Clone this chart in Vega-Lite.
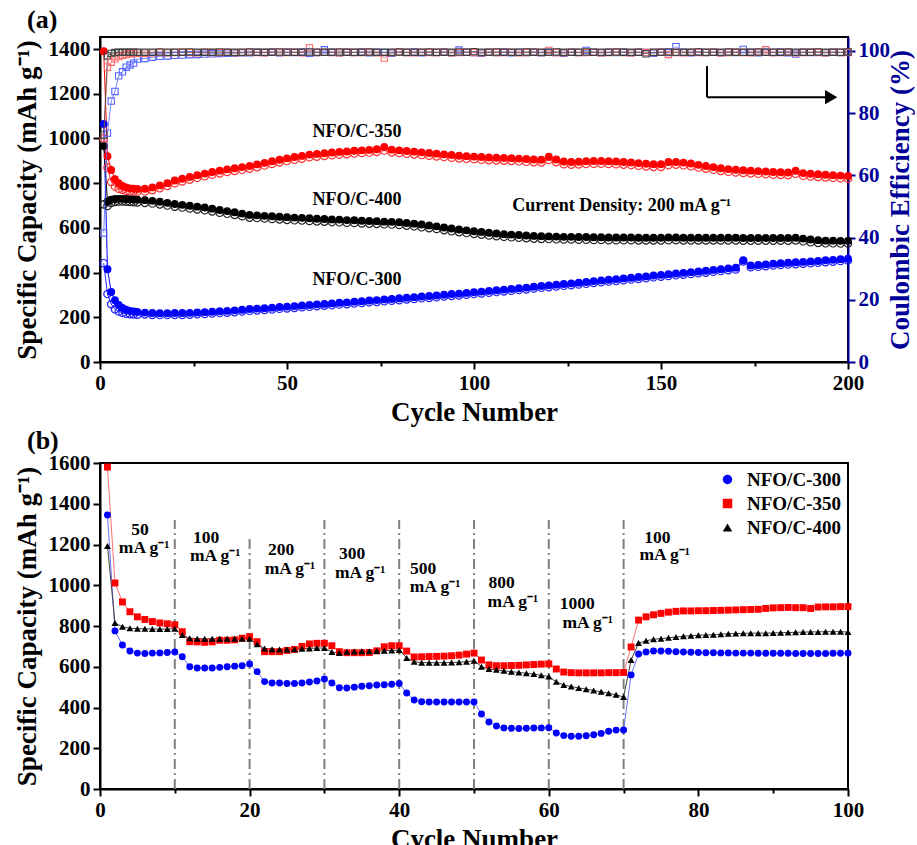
{
  "$schema": "https://vega.github.io/schema/vega-lite/v6.json",
  "padding": {"left": 12, "top": 6, "right": 0, "bottom": 0},
  "background": "white",
  "spacing": 1,
  "resolve": {"scale": {"color": "independent", "shape": "independent", "stroke": "independent"}, "legend": {"color": "independent", "shape": "independent"}},
  "config": {
    "font": "Liberation Serif",
    "view": {"stroke": "black", "strokeWidth": 2},
    "axis": {"grid": false, "domainWidth": 2, "domainColor": "black", "tickWidth": 2, "tickColor": "black", "labelFont": "Liberation Serif", "labelFontWeight": "bold", "labelFontSize": 21, "labelColor": "black", "titleFont": "Liberation Serif", "titleFontWeight": "bold", "titleFontSize": 27, "titleColor": "black", "labelPadding": 3, "labelFlush": false, "labelOverlap": false},
    "legend": {"labelFont": "Liberation Serif", "labelFontWeight": "bold", "labelFontSize": 19, "labelColor": "black", "rowPadding": 4, "labelOffset": 10, "offset": 4, "padding": 3},
    "title": {"font": "Liberation Serif", "fontWeight": "bold", "fontSize": 26, "anchor": "start", "color": "black"}
  },
  "datasets": {
    "a": [
      {"c":1,"b":1065,"bo":442,"r":1390,"ro":1000,"k":966,"ko":705,"be":41.5,"re":72,"ke":73.0},
      {"c":2,"b":415,"bo":304,"r":921,"ro":870,"k":718,"ko":698,"be":73.6,"re":94.8,"ke":98.4},
      {"c":3,"b":313,"bo":259,"r":859,"ro":805,"k":726,"ko":712,"be":83.9,"re":96.4,"ke":99.2},
      {"c":4,"b":276,"bo":236,"r":818,"ro":785,"k":729,"ko":716,"be":87.0,"re":97.5,"ke":99.5},
      {"c":5,"b":255,"bo":226,"r":800,"ro":775,"k":730,"ko":718,"be":92.0,"re":98.2,"ke":99.6},
      {"c":6,"b":242,"bo":220,"r":788,"ro":770,"k":730,"ko":718,"be":93.3,"re":98.6,"ke":99.6},
      {"c":7,"b":234,"bo":216,"r":781,"ro":766,"k":729,"ko":717,"be":94.8,"re":98.9,"ke":99.6},
      {"c":8,"b":229,"bo":214,"r":777,"ro":764,"k":728,"ko":716,"be":95.5,"re":99.1,"ke":99.6},
      {"c":9,"b":226,"bo":213,"r":775,"ro":763,"k":727,"ko":715,"be":96.1,"re":99.2,"ke":99.6},
      {"c":10,"b":224,"bo":212,"r":774,"ro":763,"k":726,"ko":714,"be":97.4,"re":99.3,"ke":99.6},
      {"c":12,"b":221,"bo":213,"r":775,"ro":763,"k":724,"ko":712,"be":97.6,"re":99.3,"ke":99.6},
      {"c":14,"b":219,"bo":211,"r":781,"ro":769,"k":721,"ko":709,"be":98.0,"re":99.4,"ke":99.6},
      {"c":16,"b":218,"bo":210,"r":790,"ro":778,"k":717,"ko":705,"be":98.3,"re":99.5,"ke":99.7},
      {"c":18,"b":218,"bo":210,"r":800,"ro":788,"k":712,"ko":700,"be":98.4,"re":99.4,"ke":99.6},
      {"c":20,"b":219,"bo":211,"r":812,"ro":800,"k":707,"ko":695,"be":98.6,"re":99.5,"ke":99.6},
      {"c":22,"b":219,"bo":211,"r":820,"ro":808,"k":703,"ko":691,"be":98.7,"re":99.6,"ke":99.6},
      {"c":24,"b":220,"bo":212,"r":828,"ro":816,"k":699,"ko":687,"be":98.8,"re":99.5,"ke":99.7},
      {"c":26,"b":222,"bo":214,"r":836,"ro":824,"k":695,"ko":683,"be":98.9,"re":99.4,"ke":99.6},
      {"c":28,"b":223,"bo":215,"r":843,"ro":831,"k":691,"ko":679,"be":99.0,"re":99.6,"ke":99.6},
      {"c":30,"b":225,"bo":217,"r":850,"ro":838,"k":686,"ko":674,"be":99.1,"re":99.5,"ke":99.6},
      {"c":32,"b":227,"bo":219,"r":856,"ro":844,"k":680,"ko":668,"be":99.2,"re":99.5,"ke":99.7},
      {"c":34,"b":229,"bo":221,"r":862,"ro":850,"k":675,"ko":663,"be":99.3,"re":99.6,"ke":99.6},
      {"c":36,"b":231,"bo":223,"r":867,"ro":855,"k":670,"ko":658,"be":99.3,"re":99.4,"ke":99.6},
      {"c":38,"b":234,"bo":226,"r":872,"ro":860,"k":664,"ko":652,"be":99.4,"re":99.5,"ke":99.6},
      {"c":40,"b":237,"bo":229,"r":877,"ro":865,"k":658,"ko":646,"be":99.4,"re":99.6,"ke":99.7},
      {"c":42,"b":239,"bo":231,"r":884,"ro":872,"k":656,"ko":644,"be":99.6,"re":99.5,"ke":99.6},
      {"c":44,"b":241,"bo":233,"r":891,"ro":879,"k":654,"ko":642,"be":99.5,"re":99.4,"ke":99.6},
      {"c":46,"b":243,"bo":235,"r":898,"ro":886,"k":652,"ko":640,"be":99.7,"re":99.6,"ke":99.6},
      {"c":48,"b":246,"bo":238,"r":905,"ro":893,"k":650,"ko":638,"be":99.4,"re":99.5,"ke":99.7},
      {"c":50,"b":248,"bo":240,"r":911,"ro":899,"k":648,"ko":636,"be":99.6,"re":99.5,"ke":99.6},
      {"c":52,"b":250,"bo":242,"r":917,"ro":905,"k":646,"ko":634,"be":99.5,"re":99.6,"ke":99.6},
      {"c":54,"b":253,"bo":245,"r":922,"ro":910,"k":645,"ko":633,"be":99.7,"re":99.4,"ke":99.6},
      {"c":56,"b":255,"bo":247,"r":928,"ro":916,"k":643,"ko":631,"be":99.3,"re":101.0,"ke":99.7},
      {"c":58,"b":258,"bo":250,"r":931,"ro":919,"k":641,"ko":629,"be":99.5,"re":99.5,"ke":99.6},
      {"c":60,"b":260,"bo":252,"r":934,"ro":922,"k":640,"ko":628,"be":100.4,"re":99.6,"ke":99.6},
      {"c":62,"b":262,"bo":254,"r":937,"ro":925,"k":638,"ko":626,"be":99.6,"re":99.5,"ke":99.6},
      {"c":64,"b":265,"bo":257,"r":940,"ro":928,"k":637,"ko":625,"be":99.4,"re":99.4,"ke":99.7},
      {"c":66,"b":267,"bo":259,"r":942,"ro":930,"k":635,"ko":623,"be":99.6,"re":99.6,"ke":99.6},
      {"c":68,"b":270,"bo":262,"r":945,"ro":933,"k":634,"ko":622,"be":99.5,"re":99.5,"ke":99.6},
      {"c":70,"b":272,"bo":264,"r":947,"ro":935,"k":632,"ko":620,"be":99.7,"re":99.5,"ke":99.6},
      {"c":72,"b":275,"bo":267,"r":949,"ro":937,"k":631,"ko":619,"be":99.4,"re":99.6,"ke":99.7},
      {"c":74,"b":277,"bo":269,"r":952,"ro":940,"k":630,"ko":618,"be":99.6,"re":99.4,"ke":99.6},
      {"c":76,"b":280,"bo":272,"r":962,"ro":946,"k":628,"ko":616,"be":99.5,"re":97.7,"ke":99.6},
      {"c":78,"b":282,"bo":274,"r":950,"ro":938,"k":627,"ko":615,"be":99.3,"re":99.5,"ke":99.6},
      {"c":80,"b":285,"bo":277,"r":947,"ro":935,"k":625,"ko":613,"be":99.6,"re":99.6,"ke":99.7},
      {"c":82,"b":288,"bo":280,"r":944,"ro":932,"k":622,"ko":610,"be":99.5,"re":99.5,"ke":99.6},
      {"c":84,"b":290,"bo":282,"r":941,"ro":929,"k":619,"ko":607,"be":99.7,"re":99.4,"ke":99.6},
      {"c":86,"b":293,"bo":285,"r":938,"ro":926,"k":615,"ko":603,"be":99.4,"re":99.6,"ke":99.6},
      {"c":88,"b":295,"bo":287,"r":935,"ro":923,"k":611,"ko":599,"be":99.6,"re":99.5,"ke":99.7},
      {"c":90,"b":298,"bo":290,"r":932,"ro":920,"k":607,"ko":595,"be":99.5,"re":99.5,"ke":99.6},
      {"c":92,"b":301,"bo":293,"r":929,"ro":917,"k":602,"ko":590,"be":99.7,"re":99.6,"ke":99.6},
      {"c":94,"b":304,"bo":296,"r":926,"ro":914,"k":597,"ko":585,"be":99.4,"re":99.4,"ke":99.6},
      {"c":96,"b":306,"bo":298,"r":923,"ro":911,"k":593,"ko":581,"be":100.3,"re":99.5,"ke":99.7},
      {"c":98,"b":309,"bo":301,"r":921,"ro":909,"k":589,"ko":577,"be":99.6,"re":99.6,"ke":99.6},
      {"c":100,"b":312,"bo":304,"r":919,"ro":907,"k":585,"ko":573,"be":99.5,"re":99.5,"ke":99.8},
      {"c":102,"b":315,"bo":307,"r":917,"ro":905,"k":582,"ko":570,"be":99.3,"re":99.4,"ke":99.6},
      {"c":104,"b":318,"bo":310,"r":915,"ro":903,"k":578,"ko":566,"be":99.6,"re":99.6,"ke":99.6},
      {"c":106,"b":321,"bo":313,"r":914,"ro":902,"k":575,"ko":563,"be":99.5,"re":99.5,"ke":99.7},
      {"c":108,"b":324,"bo":316,"r":913,"ro":901,"k":572,"ko":560,"be":99.7,"re":99.5,"ke":99.6},
      {"c":110,"b":327,"bo":319,"r":912,"ro":900,"k":570,"ko":558,"be":99.4,"re":99.6,"ke":99.6},
      {"c":112,"b":330,"bo":322,"r":910,"ro":898,"k":568,"ko":556,"be":99.6,"re":99.4,"ke":99.6},
      {"c":114,"b":333,"bo":325,"r":908,"ro":896,"k":566,"ko":554,"be":99.5,"re":99.5,"ke":99.7},
      {"c":116,"b":337,"bo":329,"r":906,"ro":894,"k":564,"ko":552,"be":99.7,"re":99.6,"ke":99.6},
      {"c":118,"b":340,"bo":332,"r":905,"ro":893,"k":563,"ko":551,"be":99.4,"re":99.5,"ke":99.6},
      {"c":120,"b":343,"bo":335,"r":918,"ro":904,"k":562,"ko":550,"be":99.6,"re":100.2,"ke":99.6},
      {"c":122,"b":346,"bo":338,"r":906,"ro":894,"k":561,"ko":549,"be":99.5,"re":99.5,"ke":99.7},
      {"c":124,"b":349,"bo":341,"r":897,"ro":885,"k":560,"ko":548,"be":99.3,"re":99.4,"ke":99.6},
      {"c":126,"b":352,"bo":344,"r":895,"ro":883,"k":560,"ko":548,"be":99.6,"re":99.6,"ke":99.6},
      {"c":128,"b":355,"bo":347,"r":896,"ro":884,"k":559,"ko":547,"be":99.5,"re":99.5,"ke":99.6},
      {"c":130,"b":358,"bo":350,"r":898,"ro":886,"k":559,"ko":547,"be":100.2,"re":99.5,"ke":99.7},
      {"c":132,"b":362,"bo":354,"r":899,"ro":887,"k":558,"ko":546,"be":99.6,"re":99.6,"ke":99.6},
      {"c":134,"b":365,"bo":357,"r":899,"ro":887,"k":558,"ko":546,"be":99.4,"re":99.4,"ke":99.6},
      {"c":136,"b":368,"bo":360,"r":898,"ro":886,"k":557,"ko":545,"be":99.6,"re":99.5,"ke":99.6},
      {"c":138,"b":371,"bo":363,"r":897,"ro":885,"k":557,"ko":545,"be":99.5,"re":99.6,"ke":99.7},
      {"c":140,"b":374,"bo":366,"r":895,"ro":883,"k":557,"ko":545,"be":99.7,"re":99.5,"ke":99.6},
      {"c":142,"b":377,"bo":369,"r":893,"ro":881,"k":557,"ko":545,"be":99.4,"re":99.4,"ke":99.6},
      {"c":144,"b":380,"bo":372,"r":890,"ro":878,"k":556,"ko":544,"be":99.6,"re":99.6,"ke":99.6},
      {"c":146,"b":383,"bo":375,"r":887,"ro":875,"k":556,"ko":544,"be":99.5,"re":99.5,"ke":99.1},
      {"c":148,"b":387,"bo":379,"r":885,"ro":873,"k":556,"ko":544,"be":99.3,"re":99.5,"ke":99.6},
      {"c":150,"b":390,"bo":382,"r":885,"ro":873,"k":556,"ko":544,"be":99.6,"re":99.6,"ke":99.6},
      {"c":152,"b":393,"bo":385,"r":895,"ro":881,"k":557,"ko":545,"be":99.5,"re":98.9,"ke":99.7},
      {"c":154,"b":396,"bo":388,"r":895,"ro":883,"k":557,"ko":545,"be":101.4,"re":99.5,"ke":99.6},
      {"c":156,"b":399,"bo":391,"r":892,"ro":880,"k":556,"ko":544,"be":99.6,"re":99.4,"ke":99.6},
      {"c":158,"b":402,"bo":394,"r":888,"ro":876,"k":556,"ko":544,"be":99.4,"re":99.6,"ke":99.6},
      {"c":160,"b":405,"bo":397,"r":882,"ro":870,"k":556,"ko":544,"be":99.7,"re":99.5,"ke":99.7},
      {"c":162,"b":408,"bo":400,"r":877,"ro":865,"k":556,"ko":544,"be":99.5,"re":99.5,"ke":99.6},
      {"c":164,"b":412,"bo":404,"r":872,"ro":860,"k":556,"ko":544,"be":99.6,"re":99.6,"ke":99.6},
      {"c":166,"b":415,"bo":407,"r":867,"ro":855,"k":556,"ko":544,"be":99.4,"re":99.4,"ke":99.6},
      {"c":168,"b":419,"bo":411,"r":863,"ro":851,"k":556,"ko":544,"be":99.6,"re":99.5,"ke":99.7},
      {"c":170,"b":422,"bo":414,"r":860,"ro":848,"k":556,"ko":544,"be":99.5,"re":99.6,"ke":99.6},
      {"c":172,"b":455,"bo":450,"r":858,"ro":846,"k":555,"ko":543,"be":100.5,"re":99.5,"ke":99.6},
      {"c":174,"b":432,"bo":424,"r":856,"ro":844,"k":555,"ko":543,"be":99.6,"re":99.4,"ke":99.6},
      {"c":176,"b":434,"bo":426,"r":854,"ro":842,"k":555,"ko":543,"be":99.4,"re":99.6,"ke":99.7},
      {"c":178,"b":437,"bo":429,"r":852,"ro":840,"k":555,"ko":543,"be":99.6,"re":100.4,"ke":99.6},
      {"c":180,"b":440,"bo":432,"r":850,"ro":838,"k":555,"ko":543,"be":99.5,"re":99.5,"ke":99.6},
      {"c":182,"b":442,"bo":434,"r":849,"ro":837,"k":555,"ko":543,"be":99.7,"re":99.5,"ke":99.6},
      {"c":184,"b":444,"bo":436,"r":848,"ro":836,"k":555,"ko":543,"be":99.4,"re":99.6,"ke":99.7},
      {"c":186,"b":446,"bo":438,"r":856,"ro":842,"k":556,"ko":544,"be":99.0,"re":99.4,"ke":99.6},
      {"c":188,"b":448,"bo":440,"r":845,"ro":833,"k":552,"ko":540,"be":99.6,"re":99.5,"ke":99.6},
      {"c":190,"b":450,"bo":442,"r":842,"ro":830,"k":548,"ko":536,"be":99.5,"re":99.6,"ke":99.6},
      {"c":192,"b":452,"bo":444,"r":840,"ro":828,"k":545,"ko":533,"be":99.6,"re":99.5,"ke":99.7},
      {"c":194,"b":455,"bo":447,"r":838,"ro":826,"k":543,"ko":531,"be":99.4,"re":99.4,"ke":99.6},
      {"c":196,"b":457,"bo":449,"r":836,"ro":824,"k":543,"ko":531,"be":99.6,"re":99.6,"ke":99.6},
      {"c":198,"b":460,"bo":452,"r":834,"ro":822,"k":542,"ko":530,"be":99.5,"re":99.5,"ke":99.6},
      {"c":200,"b":462,"bo":454,"r":832,"ro":820,"k":542,"ko":530,"be":99.6,"re":99.5,"ke":99.7}
    ],
    "aText": [
      {"x": 68.7, "y": 1029, "t": "NFO/C-350"},
      {"x": 68.7, "y": 725, "t": "NFO/C-400"},
      {"x": 68.7, "y": 367, "t": "NFO/C-300"}
    ],
    "aNote": [{"x": 110.2, "y": 698, "t": "Current Density: 200 mA g⁻¹"}],
    "aArrow": [
      {"x": 162.3, "y": 1324, "x2": 162.3, "y2": 1185},
      {"x": 162.3, "y": 1185, "x2": 194.5, "y2": 1185}
    ],
    "aHead": [{"x": 195.5, "y": 1185}],
    "names": [
      {"key": "s300", "name": "NFO/C-300"},
      {"key": "s350", "name": "NFO/C-350"},
      {"key": "s400", "name": "NFO/C-400"}
    ],
    "b": [
      {"c":1,"s300":1345,"s350":1580,"s400":1193},
      {"c":2,"s300":776,"s350":1011,"s400":815},
      {"c":3,"s300":707,"s350":918,"s400":796},
      {"c":4,"s300":677,"s350":870,"s400":789},
      {"c":5,"s300":667,"s350":845,"s400":787},
      {"c":6,"s300":665,"s350":832,"s400":786},
      {"c":7,"s300":667,"s350":822,"s400":785},
      {"c":8,"s300":668,"s350":815,"s400":785},
      {"c":9,"s300":670,"s350":811,"s400":785},
      {"c":10,"s300":672,"s350":806,"s400":786},
      {"c":11,"s300":649,"s350":772,"s400":756},
      {"c":12,"s300":600,"s350":723,"s400":740},
      {"c":13,"s300":594,"s350":722,"s400":738},
      {"c":14,"s300":594,"s350":720,"s400":737},
      {"c":15,"s300":594,"s350":722,"s400":737},
      {"c":16,"s300":597,"s350":730,"s400":737},
      {"c":17,"s300":600,"s350":730,"s400":737},
      {"c":18,"s300":603,"s350":732,"s400":737},
      {"c":19,"s300":605,"s350":740,"s400":738},
      {"c":20,"s300":614,"s350":748,"s400":738},
      {"c":21,"s300":576,"s350":723,"s400":711},
      {"c":22,"s300":527,"s350":674,"s400":690},
      {"c":23,"s300":520,"s350":674,"s400":686},
      {"c":24,"s300":520,"s350":674,"s400":685},
      {"c":25,"s300":518,"s350":680,"s400":685},
      {"c":26,"s300":518,"s350":685,"s400":686},
      {"c":27,"s300":520,"s350":700,"s400":688},
      {"c":28,"s300":525,"s350":712,"s400":690},
      {"c":29,"s300":530,"s350":715,"s400":692},
      {"c":30,"s300":540,"s350":715,"s400":692},
      {"c":31,"s300":520,"s350":703,"s400":672},
      {"c":32,"s300":497,"s350":674,"s400":667},
      {"c":33,"s300":496,"s350":669,"s400":674},
      {"c":34,"s300":500,"s350":669,"s400":675},
      {"c":35,"s300":504,"s350":669,"s400":676},
      {"c":36,"s300":507,"s350":670,"s400":676},
      {"c":37,"s300":510,"s350":678,"s400":677},
      {"c":38,"s300":512,"s350":698,"s400":678},
      {"c":39,"s300":514,"s350":703,"s400":680},
      {"c":40,"s300":518,"s350":703,"s400":682},
      {"c":41,"s300":471,"s350":677,"s400":643},
      {"c":42,"s300":437,"s350":648,"s400":625},
      {"c":43,"s300":428,"s350":649,"s400":620},
      {"c":44,"s300":427,"s350":650,"s400":620},
      {"c":45,"s300":427,"s350":651,"s400":620},
      {"c":46,"s300":427,"s350":652,"s400":620},
      {"c":47,"s300":427,"s350":654,"s400":621},
      {"c":48,"s300":427,"s350":657,"s400":622},
      {"c":49,"s300":427,"s350":662,"s400":625},
      {"c":50,"s300":427,"s350":667,"s400":630},
      {"c":51,"s300":368,"s350":633,"s400":600},
      {"c":52,"s300":329,"s350":609,"s400":589},
      {"c":53,"s300":309,"s350":605,"s400":585},
      {"c":54,"s300":300,"s350":605,"s400":580},
      {"c":55,"s300":298,"s350":606,"s400":576},
      {"c":56,"s300":297,"s350":607,"s400":572},
      {"c":57,"s300":298,"s350":609,"s400":568},
      {"c":58,"s300":299,"s350":611,"s400":564},
      {"c":59,"s300":300,"s350":613,"s400":558},
      {"c":60,"s300":301,"s350":614,"s400":552},
      {"c":61,"s300":275,"s350":589,"s400":526},
      {"c":62,"s300":262,"s350":574,"s400":510},
      {"c":63,"s300":259,"s350":571,"s400":503},
      {"c":64,"s300":259,"s350":570,"s400":496},
      {"c":65,"s300":261,"s350":570,"s400":490},
      {"c":66,"s300":266,"s350":570,"s400":484},
      {"c":67,"s300":273,"s350":570,"s400":477},
      {"c":68,"s300":283,"s350":571,"s400":470},
      {"c":69,"s300":289,"s350":571,"s400":462},
      {"c":70,"s300":290,"s350":572,"s400":452},
      {"c":71,"s300":560,"s350":697,"s400":633},
      {"c":72,"s300":663,"s350":829,"s400":716},
      {"c":73,"s300":672,"s350":845,"s400":727},
      {"c":74,"s300":677,"s350":855,"s400":735},
      {"c":75,"s300":677,"s350":862,"s400":738},
      {"c":76,"s300":676,"s350":868,"s400":742},
      {"c":77,"s300":674,"s350":872,"s400":746},
      {"c":78,"s300":672,"s350":874,"s400":750},
      {"c":79,"s300":671,"s350":874,"s400":752},
      {"c":80,"s300":670,"s350":875,"s400":755},
      {"c":81,"s300":669,"s350":875,"s400":756},
      {"c":82,"s300":669,"s350":876,"s400":757},
      {"c":83,"s300":668,"s350":877,"s400":760},
      {"c":84,"s300":668,"s350":878,"s400":762},
      {"c":85,"s300":667,"s350":879,"s400":763},
      {"c":86,"s300":667,"s350":880,"s400":764},
      {"c":87,"s300":667,"s350":881,"s400":765},
      {"c":88,"s300":666,"s350":882,"s400":765},
      {"c":89,"s300":666,"s350":886,"s400":765},
      {"c":90,"s300":666,"s350":889,"s400":766},
      {"c":91,"s300":666,"s350":890,"s400":767},
      {"c":92,"s300":666,"s350":891,"s400":768},
      {"c":93,"s300":665,"s350":890,"s400":769},
      {"c":94,"s300":665,"s350":890,"s400":770},
      {"c":95,"s300":665,"s350":886,"s400":771},
      {"c":96,"s300":665,"s350":893,"s400":771},
      {"c":97,"s300":665,"s350":894,"s400":772},
      {"c":98,"s300":666,"s350":894,"s400":772},
      {"c":99,"s300":666,"s350":895,"s400":772},
      {"c":100,"s300":666,"s350":895,"s400":770}
    ],
    "bRules": [
      {"x": 10, "lo": 0, "top": 1320}, {"x": 20, "lo": 0, "top": 1240}, {"x": 30, "lo": 0, "top": 1320}, {"x": 40, "lo": 0, "top": 1320},
      {"x": 50, "lo": 0, "top": 1320}, {"x": 60, "lo": 0, "top": 1320}, {"x": 70, "lo": 0, "top": 1320}
    ],
    "bText": [
      {"x": 5.35, "y": 1271, "t": "50"}, {"x": 5.9, "y": 1183, "t": "mA g⁻¹"},
      {"x": 14.2, "y": 1232, "t": "100"}, {"x": 15.4, "y": 1144, "t": "mA g⁻¹"},
      {"x": 24.2, "y": 1173, "t": "200"}, {"x": 25.4, "y": 1080, "t": "mA g⁻¹"},
      {"x": 33.7, "y": 1153, "t": "300"}, {"x": 34.8, "y": 1060, "t": "mA g⁻¹"},
      {"x": 43.2, "y": 1080, "t": "500"}, {"x": 44.8, "y": 991, "t": "mA g⁻¹"},
      {"x": 53.7, "y": 1011, "t": "800"}, {"x": 55.2, "y": 918, "t": "mA g⁻¹"},
      {"x": 63.8, "y": 908, "t": "1000"}, {"x": 65.2, "y": 815, "t": "mA g⁻¹"},
      {"x": 74.5, "y": 1232, "t": "100"}, {"x": 75.5, "y": 1148, "t": "mA g⁻¹"}
    ]
  },
  "vconcat": [
    {
      "width": 748,
      "height": 325,
      "title": {"text": "(a)", "frame": "group", "dx": -73, "offset": 4},
      "resolve": {"scale": {"y": "independent"}},
      "layer": [
        {
          "layer": [
            {
              "data": {"name": "a"},
              "transform": [{"fold": ["b", "bo", "r", "ro", "k", "ko"], "as": ["s", "v"]}],
              "mark": {"type": "line", "strokeWidth": 1},
              "encoding": {
                "x": {"field": "c", "type": "quantitative", "scale": {"domain": [0, 200], "nice": false},
                  "axis": {"title": "Cycle Number", "format": "d", "values": [0, 25, 50, 75, 100, 125, 150, 175, 200],
                    "labelExpr": "datum.value % 50 === 0 ? datum.label : ''",
                    "tickSize": {"condition": {"test": "datum.value % 50 !== 0", "value": 4}, "value": 7},
                    "titlePadding": 6}},
                "y": {"field": "v", "type": "quantitative", "scale": {"domain": [0, 1454], "nice": false},
                  "axis": {"title": "Specific Capacity (mAh g⁻¹)", "format": "d", "values": [0, 100, 200, 300, 400, 500, 600, 700, 800, 900, 1000, 1100, 1200, 1300, 1400],
                    "labelExpr": "datum.value % 200 === 0 ? datum.label : ''",
                    "tickSize": {"condition": {"test": "datum.value % 200 !== 0", "value": 4}, "value": 7},
                    "titlePadding": 7}},
                "color": {"field": "s", "type": "nominal", "legend": null,
                  "scale": {"domain": ["b", "bo", "r", "ro", "k", "ko", "be", "re", "ke"],
                    "range": ["#0000FF", "#2020FF", "#FF0000", "#FF3030", "#000000", "#222222", "#5566FF", "#FF6A6A", "#404040"]}}
              }
            },
            {
              "data": {"name": "a"},
              "transform": [{"fold": ["bo", "ro", "ko"], "as": ["s", "v"]}],
              "mark": {"type": "point", "filled": false, "size": 55, "strokeWidth": 1.2, "opacity": 1},
              "encoding": {
                "x": {"field": "c", "type": "quantitative", "scale": {"domain": [0, 200], "nice": false}},
                "y": {"field": "v", "type": "quantitative", "scale": {"domain": [0, 1454], "nice": false}},
                "color": {"field": "s", "type": "nominal", "legend": null}
              }
            },
            {
              "data": {"name": "a"},
              "transform": [{"fold": ["b", "r", "k"], "as": ["s", "v"]}],
              "mark": {"type": "circle", "size": 62, "opacity": 1},
              "encoding": {
                "x": {"field": "c", "type": "quantitative", "scale": {"domain": [0, 200], "nice": false}},
                "y": {"field": "v", "type": "quantitative", "scale": {"domain": [0, 1454], "nice": false}},
                "color": {"field": "s", "type": "nominal", "legend": null}
              }
            },
            {
              "data": {"name": "aText"},
              "mark": {"type": "text", "font": "Liberation Serif", "fontWeight": "bold", "fontSize": 18, "align": "center", "baseline": "middle", "color": "black"},
              "encoding": {
                "x": {"field": "x", "type": "quantitative", "scale": {"domain": [0, 200], "nice": false}},
                "y": {"field": "y", "type": "quantitative", "scale": {"domain": [0, 1454], "nice": false}},
                "text": {"field": "t", "type": "nominal"}
              }
            },
            {
              "data": {"name": "aNote"},
              "mark": {"type": "text", "font": "Liberation Serif", "fontWeight": "bold", "fontSize": 18, "align": "left", "baseline": "middle", "color": "black"},
              "encoding": {
                "x": {"field": "x", "type": "quantitative", "scale": {"domain": [0, 200], "nice": false}},
                "y": {"field": "y", "type": "quantitative", "scale": {"domain": [0, 1454], "nice": false}},
                "text": {"field": "t", "type": "nominal"}
              }
            },
            {
              "data": {"name": "aArrow"},
              "mark": {"type": "rule", "color": "black", "strokeWidth": 2},
              "encoding": {
                "x": {"field": "x", "type": "quantitative", "scale": {"domain": [0, 200], "nice": false}},
                "y": {"field": "y", "type": "quantitative", "scale": {"domain": [0, 1454], "nice": false}},
                "x2": {"field": "x2"},
                "y2": {"field": "y2"}
              }
            },
            {
              "data": {"name": "aHead"},
              "mark": {"type": "point", "shape": "triangle-right", "filled": true, "size": 200, "color": "black", "opacity": 1},
              "encoding": {
                "x": {"field": "x", "type": "quantitative", "scale": {"domain": [0, 200], "nice": false}},
                "y": {"field": "y", "type": "quantitative", "scale": {"domain": [0, 1454], "nice": false}}
              }
            }
          ]
        },
        {
          "layer": [
            {
              "data": {"name": "a"},
              "transform": [{"fold": ["be", "re", "ke"], "as": ["s", "e"]}],
              "mark": {"type": "line", "strokeWidth": 0.8},
              "encoding": {
                "x": {"field": "c", "type": "quantitative", "scale": {"domain": [0, 200], "nice": false}},
                "y": {"field": "e", "type": "quantitative", "scale": {"domain": [0, 104.5], "nice": false},
                  "axis": {"orient": "right", "title": "Coulombic Efficiency (%)", "format": "d", "values": [0, 10, 20, 30, 40, 50, 60, 70, 80, 90, 100],
                    "labelExpr": "datum.value % 20 === 0 ? datum.label : ''",
                    "tickSize": {"condition": {"test": "datum.value % 20 !== 0", "value": 4}, "value": 7},
                    "domainColor": "#000099", "tickColor": "#000099", "labelColor": "#000099", "titleColor": "#000099",
                    "titleAngle": 270, "titlePadding": 25}},
                "color": {"field": "s", "type": "nominal", "legend": null}
              }
            },
            {
              "data": {"name": "a"},
              "transform": [{"fold": ["be", "re", "ke"], "as": ["s", "e"]}],
              "mark": {"type": "point", "shape": "square", "filled": false, "size": 40, "strokeWidth": 1.1, "opacity": 1},
              "encoding": {
                "x": {"field": "c", "type": "quantitative", "scale": {"domain": [0, 200], "nice": false}},
                "y": {"field": "e", "type": "quantitative", "scale": {"domain": [0, 104.5], "nice": false}},
                "color": {"field": "s", "type": "nominal", "legend": null}
              }
            }
          ]
        }
      ]
    },
    {
      "width": 748,
      "height": 326,
      "title": {"text": "(b)", "frame": "group", "dx": -73, "offset": -2},
      "layer": [
        {
          "data": {"name": "bRules"},
          "mark": {"type": "rule", "color": "#808080", "strokeWidth": 2, "strokeDash": [10, 4, 2, 4]},
          "encoding": {
            "x": {"field": "x", "type": "quantitative", "scale": {"domain": [0, 100], "nice": false},
              "axis": {"title": "Cycle Number", "format": "d", "values": [0, 10, 20, 30, 40, 50, 60, 70, 80, 90, 100],
                "labelExpr": "datum.value % 20 === 0 ? datum.label : ''",
                "tickSize": {"condition": {"test": "datum.value % 20 !== 0", "value": 4}, "value": 7},
                "titlePadding": 6}},
            "y": {"field": "lo", "type": "quantitative", "scale": {"domain": [0, 1600], "nice": false},
              "axis": {"title": "Specific Capacity (mAh g⁻¹)", "format": "d", "values": [0, 100, 200, 300, 400, 500, 600, 700, 800, 900, 1000, 1100, 1200, 1300, 1400, 1500, 1600],
                "labelExpr": "datum.value % 200 === 0 ? datum.label : ''",
                "tickSize": {"condition": {"test": "datum.value % 200 !== 0", "value": 4}, "value": 7},
                "titlePadding": 7}},
            "y2": {"field": "top"}
          }
        },
        {
          "data": {"name": "b"},
          "transform": [{"fold": ["s300", "s350", "s400"], "as": ["s", "v"]}],
          "mark": {"type": "line", "strokeWidth": 1},
          "encoding": {
            "x": {"field": "c", "type": "quantitative", "scale": {"domain": [0, 100], "nice": false}},
            "y": {"field": "v", "type": "quantitative", "scale": {"domain": [0, 1600], "nice": false}},
            "detail": {"field": "s", "type": "nominal"},
            "stroke": {"field": "s", "type": "nominal", "legend": null,
              "scale": {"domain": ["s300", "s350", "s400"], "range": ["#7070FF", "#FF7070", "#404040"]}}
          }
        },
        {
          "data": {"name": "b"},
          "transform": [
            {"fold": ["s300", "s350", "s400"], "as": ["s", "v"]},
            {"lookup": "s", "from": {"data": {"name": "names"}, "key": "key", "fields": ["name"]}}
          ],
          "mark": {"type": "point", "filled": true, "size": 48, "opacity": 1, "strokeWidth": 1},
          "encoding": {
            "x": {"field": "c", "type": "quantitative", "scale": {"domain": [0, 100], "nice": false}},
            "y": {"field": "v", "type": "quantitative", "scale": {"domain": [0, 1600], "nice": false}},
            "color": {"field": "name", "type": "nominal",
              "scale": {"domain": ["NFO/C-300", "NFO/C-350", "NFO/C-400"], "range": ["#0000FF", "#FF0000", "#000000"]},
              "legend": {"title": null, "orient": "top-right", "symbolSize": 90}},
            "shape": {"field": "name", "type": "nominal",
              "scale": {"domain": ["NFO/C-300", "NFO/C-350", "NFO/C-400"], "range": ["circle", "square", "triangle-up"]},
              "legend": {"title": null, "orient": "top-right", "symbolSize": 90}}
          }
        },
        {
          "data": {"name": "bText"},
          "mark": {"type": "text", "font": "Liberation Serif", "fontWeight": "bold", "fontSize": 17.5, "align": "center", "baseline": "middle", "color": "black"},
          "encoding": {
            "x": {"field": "x", "type": "quantitative", "scale": {"domain": [0, 100], "nice": false}},
            "y": {"field": "y", "type": "quantitative", "scale": {"domain": [0, 1600], "nice": false}},
            "text": {"field": "t", "type": "nominal"}
          }
        }
      ]
    }
  ]
}
